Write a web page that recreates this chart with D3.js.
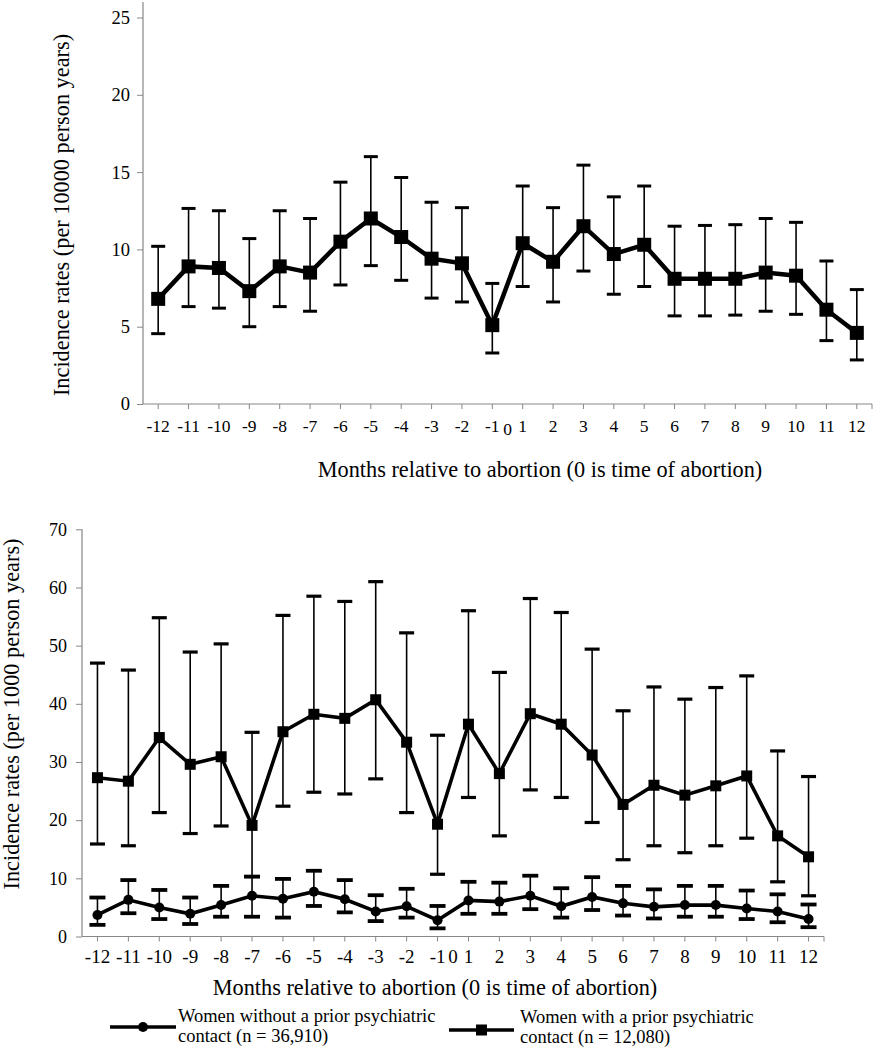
<!DOCTYPE html>
<html><head><meta charset="utf-8">
<script src="https://cdn.jsdelivr.net/npm/d3@7"></script>
<style>
body{margin:0;background:#fff}
svg{display:block}
</style>
</head><body>
<svg id="c" width="873" height="1050"></svg>
<script>
// ---------- data ----------
const months = ["-12","-11","-10","-9","-8","-7","-6","-5","-4","-3","-2","-1","1","2","3","4","5","6","7","8","9","10","11","12"];

// Top panel (per 10000 person years)
const topRate  = [6.8, 8.9, 8.8, 7.3, 8.9, 8.5, 10.5, 12.0, 10.8, 9.4, 9.1, 5.1, 10.4, 9.2, 11.5, 9.7, 10.3, 8.1, 8.1, 8.1, 8.5, 8.3, 6.1, 4.6];
const topLower = [4.55, 6.3, 6.2, 5.0, 6.3, 6.0, 7.7, 8.95, 8.0, 6.85, 6.6, 3.3, 7.6, 6.6, 8.6, 7.1, 7.6, 5.7, 5.7, 5.75, 6.0, 5.8, 4.1, 2.85];
const topUpper = [10.2, 12.65, 12.5, 10.7, 12.5, 12.0, 14.35, 16.0, 14.65, 13.05, 12.7, 7.8, 14.1, 12.7, 15.45, 13.4, 14.1, 11.5, 11.55, 11.6, 12.0, 11.75, 9.25, 7.4];
const topYTicks = [0, 5, 10, 15, 20, 25];

// Bottom panel (per 1000 person years)
const withRate  = [27.3, 26.7, 34.2, 29.6, 30.9, 19.1, 35.2, 38.2, 37.5, 40.7, 33.4, 19.3, 36.5, 28.0, 38.3, 36.5, 31.2, 22.7, 26.0, 24.3, 25.9, 27.6, 17.3, 13.7];
const withLower = [15.9, 15.6, 21.3, 17.7, 19.0, 10.3, 22.4, 24.8, 24.5, 27.1, 21.3, 10.7, 23.9, 17.3, 25.2, 23.9, 19.6, 13.2, 15.6, 14.4, 15.6, 16.9, 9.4, 7.0];
const withUpper = [47.0, 45.8, 54.8, 48.9, 50.3, 35.1, 55.2, 58.5, 57.6, 61.0, 52.2, 34.6, 56.0, 45.4, 58.1, 55.7, 49.4, 38.8, 42.9, 40.8, 42.8, 44.8, 31.9, 27.5];
const withoutRate  = [3.7, 6.3, 5.0, 3.9, 5.4, 7.0, 6.5, 7.7, 6.4, 4.3, 5.2, 2.8, 6.2, 6.0, 7.0, 5.2, 6.8, 5.7, 5.1, 5.4, 5.4, 4.8, 4.3, 3.0];
const withoutLower = [2.0, 4.0, 3.0, 2.15, 3.4, 3.4, 3.25, 5.25, 4.15, 2.65, 3.25, 1.4, 3.9, 3.9, 4.7, 3.25, 4.55, 3.6, 3.1, 3.4, 3.4, 3.0, 2.45, 1.6];
const withoutUpper = [6.7, 9.7, 8.0, 6.7, 8.7, 10.3, 9.9, 11.3, 9.7, 7.1, 8.2, 5.25, 9.4, 9.25, 10.45, 8.3, 10.2, 8.7, 8.1, 8.7, 8.7, 7.9, 7.25, 5.5];
const botYTicks = [0, 10, 20, 30, 40, 50, 60, 70];

const xTitle = "Months relative to abortion (0 is time of abortion)";
const topYTitle = "Incidence rates (per 10000 person years)";
const botYTitle = "Incidence rates (per 1000 person years)";
const legendLabels = [["Women without a prior psychiatric", "contact (n = 36,910)"],
                      ["Women with a prior psychiatric", "contact (n = 12,080)"]];

// ---------- drawing ----------
const FONT = "'Liberation Serif', 'Times New Roman', serif";
const svg = d3.select("#c");
const AX = "#878787";
const styleText = (sel, size) => sel.style("font-family", FONT).style("font-size", size + "px").attr("fill", "#000");

function panel(cfg) {
  const g = svg.append("g");
  const x = d3.scaleBand().domain(months).range([cfg.left, cfg.right]).padding(0);
  const y = d3.scaleLinear().domain([0, cfg.yMax]).range([cfg.bottom, cfg.top]);
  const cx = d => x(d) + x.bandwidth() / 2;

  // y axis
  const ya = g.append("g").attr("transform", `translate(${cfg.left},0)`)
    .call(d3.axisLeft(y).tickValues(cfg.yTicks).tickSize(6).tickSizeOuter(0).tickPadding(cfg.yPad).tickFormat(d3.format("d")));
  ya.select(".domain").remove();
  ya.selectAll(".tick line").attr("stroke", AX);
  styleText(ya.selectAll("text"), cfg.tickFont);
  g.append("line").attr("x1", cfg.left).attr("x2", cfg.left)
    .attr("y1", y(0)).attr("y2", y(cfg.yLineTop)).attr("stroke", AX).attr("stroke-width", 1.2);

  // x axis
  const xa = g.append("g").attr("transform", `translate(0,${y(0)})`)
    .call(d3.axisBottom(x).tickSize(5).tickSizeOuter(0));
  xa.select(".domain").remove();
  xa.selectAll(".tick line").attr("stroke", AX);
  styleText(xa.selectAll("text"), cfg.xTickFont).attr("y", cfg.xLabelY).attr("dy", 0);
  g.append("line").attr("x1", cfg.left).attr("x2", cfg.right)
    .attr("y1", y(0)).attr("y2", y(0)).attr("stroke", AX).attr("stroke-width", 1.2);
  g.append("line").attr("x1", cfg.right).attr("x2", cfg.right)
    .attr("y1", y(0)).attr("y2", y(0) + 5).attr("stroke", AX);
  // the extra "0" label
  styleText(g.append("text").attr("x", (cx("-1") + cx("1")) / 2).attr("y", y(0) + cfg.zeroY)
    .attr("text-anchor", "middle").text("0"), cfg.xTickFont);

  // titles
  styleText(g.append("text").attr("x", cfg.xTitleX).attr("y", cfg.xTitleY).attr("text-anchor", "middle")
    .text(xTitle), cfg.titleFont);
  styleText(g.append("text").attr("transform", `translate(${cfg.yTitleX},${cfg.yTitleY}) rotate(-90)`)
    .attr("text-anchor", "middle").text(cfg.yTitle), cfg.titleFont);

  return {g, x, y, cx};
}

function series(p, rate, lower, upper, st) {
  const {g, y, cx} = p;
  const eb = g.append("g");
  months.forEach((m, i) => {
    eb.append("line").attr("x1", cx(m)).attr("x2", cx(m)).attr("y1", y(lower[i])).attr("y2", y(upper[i]))
      .attr("stroke", "#000").attr("stroke-width", st.barW);
    [lower[i], upper[i]].forEach(v => {
      eb.append("line").attr("x1", cx(m) - st.cap / 2).attr("x2", cx(m) + st.cap / 2)
        .attr("y1", y(v)).attr("y2", y(v)).attr("stroke", "#000").attr("stroke-width", st.capW);
    });
  });
  const line = d3.line().x((d, i) => cx(months[i])).y(d => y(d));
  g.append("path").datum(rate).attr("d", line).attr("fill", "none").attr("stroke", "#000")
    .attr("stroke-width", st.lineW).attr("stroke-linejoin", "miter");
  if (st.shape === "square") {
    g.selectAll(null).data(rate).enter().append("rect")
      .attr("x", (d, i) => cx(months[i]) - st.size / 2).attr("y", d => y(d) - st.size / 2)
      .attr("width", st.size).attr("height", st.size).attr("fill", "#000");
  } else {
    g.selectAll(null).data(rate).enter().append("circle")
      .attr("cx", (d, i) => cx(months[i])).attr("cy", d => y(d)).attr("r", st.size / 2).attr("fill", "#000");
  }
}

// top panel
const pTop = panel({left: 143, right: 872, top: 17.5, bottom: 404, yMax: 25, yLineTop: 26,
  yTicks: topYTicks, yPad: 7, tickFont: 18.5, xTickFont: 17.5, xLabelY: 28, zeroY: 31,
  titleFont: 22.3, xTitleX: 540, xTitleY: 477, yTitleX: 69, yTitleY: 215, yTitle: topYTitle});
series(pTop, topRate, topLower, topUpper, {barW: 1.6, cap: 14, capW: 3, lineW: 4.5, shape: "square", size: 14});

// bottom panel
const pBot = panel({left: 82, right: 824, top: 529.3, bottom: 936.5, yMax: 70, yLineTop: 70,
  yTicks: botYTicks, yPad: 9, tickFont: 18, xTickFont: 19, xLabelY: 26.5, zeroY: 26.5,
  titleFont: 22.3, xTitleX: 435, xTitleY: 995, yTitleX: 19, yTitleY: 714, yTitle: botYTitle});
series(pBot, withRate, withLower, withUpper, {barW: 1.6, cap: 15, capW: 3.2, lineW: 3.6, shape: "square", size: 11});
series(pBot, withoutRate, withoutLower, withoutUpper, {barW: 1.6, cap: 16, capW: 3.8, lineW: 3.6, shape: "circle", size: 10});

// legend
const lg = svg.append("g");
const legItems = [
  {x1: 110, x2: 176, ly: 1027, tx: 178, ty: 1022, shape: "circle"},
  {x1: 449, x2: 514, ly: 1030, tx: 520, ty: 1023, shape: "square"}
];
legItems.forEach((it, k) => {
  lg.append("line").attr("x1", it.x1).attr("x2", it.x2).attr("y1", it.ly).attr("y2", it.ly)
    .attr("stroke", "#000").attr("stroke-width", 3.6);
  const mx = (it.x1 + it.x2) / 2;
  if (it.shape === "circle") lg.append("circle").attr("cx", mx).attr("cy", it.ly).attr("r", 5).attr("fill", "#000");
  else lg.append("rect").attr("x", mx - 5.5).attr("y", it.ly - 5.5).attr("width", 11).attr("height", 11).attr("fill", "#000");
  legendLabels[k].forEach((t, j) => {
    styleText(lg.append("text").attr("x", it.tx).attr("y", it.ty + j * 20).text(t), 18.5);
  });
});
</script>
</body></html>
